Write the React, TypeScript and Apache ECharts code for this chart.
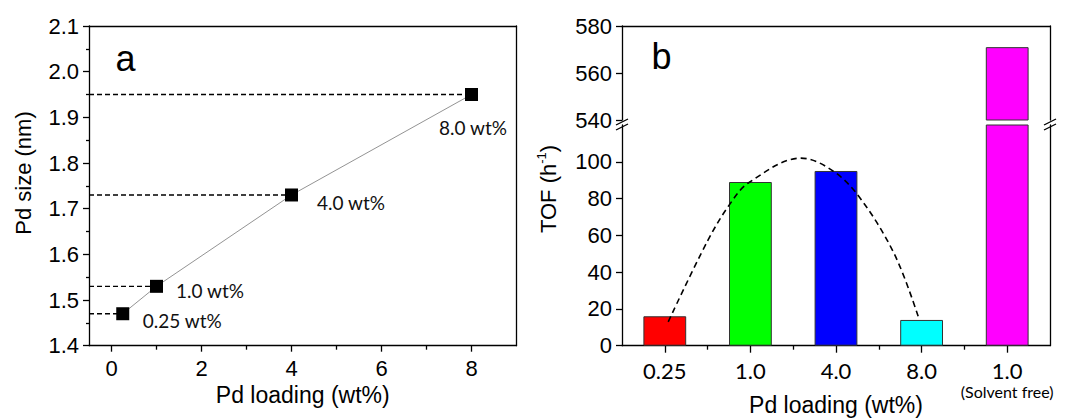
import React, { useEffect, useRef } from 'react';
import * as echarts from 'echarts';

// ---------- data: panel a ----------
const loadingsA = [0.25, 1, 4, 8];
const sizesA = [1.47, 1.53, 1.73, 1.95];
const pointLabelsA = ['0.25 wt%', '1.0 wt%', '4.0 wt%', '8.0 wt%'];
const xTicksA = [0, 2, 4, 6, 8];
const xMinorTicksA = [1, 3, 5, 7];

// ---------- data: panel b ----------
const categoriesB = ['0.25', '1.0', '4.0', '8.0', '1.0'];
const categoryNotesB = ['', '', '', '', '(Solvent free)'];
const tofB = [16, 89, 95, 14, 571];
const lowerTicksB = [0, 20, 40, 60, 80, 100];
// dashed guide curve: [category position, TOF]
const trendB: [number, number][] = [
  [0.04, 13], [0.5, 57], [0.76, 77], [0.98, 88.6], [1.59, 102],
  [1.95, 95.5], [2.27, 81], [2.68, 50], [2.96, 16],
];

// ---------- styles ----------
const barColorsB = ['#FF0000', '#00FF00', '#0000FF', '#00FFFF', '#FF00FF'];
const labelPlacementA: [number, number, string][] = [
  [26.5, 13.5, 'left'],
  [26, 10.5, 'left'],
  [32, 14.5, 'left'],
  [8, 39, 'center'],
];
const ARIAL = '"Liberation Sans", Arial, sans-serif';
const CAL = 'Lato, "Open Sans", sans-serif';
const LINE = { color: '#000', width: 1.3 };

function lineOnlyAxis(extra: any) {
  return {
    axisLine: { show: true, onZero: false, lineStyle: LINE },
    axisTick: { show: false },
    axisLabel: { show: false },
    splitLine: { show: false },
    ...extra,
  };
}

export default function App() {
  const ref = useRef<HTMLDivElement>(null);
  useEffect(() => {
    if (!ref.current) return;
    const chart = echarts.init(ref.current, undefined, { renderer: 'svg' });
    const boundaryTicks = categoriesB.slice(1).map((_, i) => i + 0.5);

    const option: any = {
      animation: false,
      grid: [
        { left: 89, right: 552.5, top: 26, bottom: 73.3, outerBoundsMode: 'none', containLabel: false },
        { left: 622, right: 19, top: 26, height: 94, outerBoundsMode: 'none', containLabel: false },
        { left: 622, right: 19, top: 125, bottom: 73.3, outerBoundsMode: 'none', containLabel: false },
      ],
      xAxis: [
        {
          gridIndex: 0, type: 'value', min: -0.5, max: 9, position: 'bottom',
          axisLine: { show: true, onZero: false, lineStyle: LINE },
          axisTick: { show: true, customValues: xTicksA, length: 6, lineStyle: LINE },
          axisLabel: { customValues: xTicksA, fontSize: 22, fontFamily: ARIAL, color: '#000', margin: 12 },
          splitLine: { show: false },
          name: 'Pd loading (wt%)', nameLocation: 'middle', nameGap: 38, nameMoveOverlap: false,
          nameTextStyle: { fontSize: 23, fontFamily: ARIAL, color: '#000' },
        },
        {
          gridIndex: 0, type: 'value', min: -0.5, max: 9, position: 'bottom',
          axisLine: { show: false, onZero: false },
          axisTick: { show: true, customValues: xMinorTicksA, length: 4, lineStyle: LINE },
          axisLabel: { show: false },
          splitLine: { show: false },
        },
        lineOnlyAxis({ gridIndex: 0, type: 'value', min: -0.5, max: 9, position: 'top' }),
        lineOnlyAxis({ gridIndex: 1, type: 'category', data: categoriesB, position: 'top' }),
        {
          gridIndex: 2, type: 'category', data: categoriesB, position: 'bottom',
          axisLine: { show: true, onZero: false, lineStyle: LINE },
          axisTick: { show: true, alignWithLabel: true, interval: 0, length: 7, lineStyle: LINE },
          axisLabel: {
            margin: 14,
            interval: 0,
            formatter: (_v: string, i: number) =>
              categoryNotesB[i]
                ? `{a|${categoriesB[i]}}\n{b|${categoryNotesB[i]}}`
                : `{a|${categoriesB[i]}}`,
            rich: {
              a: { fontSize: 22, fontFamily: CAL, color: '#000', lineHeight: 22 },
              b: { fontSize: 16, fontFamily: CAL, color: '#000', lineHeight: 20 },
            },
          },
          splitLine: { show: false },
          name: 'Pd loading (wt%)', nameLocation: 'middle', nameGap: 48, nameMoveOverlap: false,
          nameTextStyle: { fontSize: 23, fontFamily: ARIAL, color: '#000' },
        },
        {
          gridIndex: 2, type: 'value', min: -0.5, max: 4.5, position: 'bottom',
          axisLine: { show: false, onZero: false },
          axisTick: { show: true, customValues: boundaryTicks, length: 4, lineStyle: LINE },
          axisLabel: { show: false },
          splitLine: { show: false },
        },
      ],
      yAxis: [
        {
          gridIndex: 0, type: 'value', min: 1.4, max: 2.1, interval: 0.1,
          axisLine: { show: true, onZero: false, lineStyle: LINE },
          axisTick: { show: true, length: 6, lineStyle: LINE },
          minorTick: { show: true, splitNumber: 2, length: 3, lineStyle: LINE },
          axisLabel: {
            fontSize: 22, fontFamily: ARIAL, color: '#000', margin: 10,
            formatter: (v: number) => v.toFixed(1),
          },
          splitLine: { show: false },
          minorSplitLine: { show: false },
        },
        lineOnlyAxis({ gridIndex: 0, type: 'value', min: 1.4, max: 2.1, position: 'right' }),
        {
          gridIndex: 1, type: 'value', min: 540, max: 580, interval: 20,
          axisLine: { show: true, onZero: false, lineStyle: LINE },
          axisTick: { show: true, length: 6, lineStyle: LINE },
          axisLabel: { fontSize: 22, fontFamily: ARIAL, color: '#000', margin: 10 },
          splitLine: { show: false },
        },
        lineOnlyAxis({ gridIndex: 1, type: 'value', min: 540, max: 580, position: 'right' }),
        {
          gridIndex: 2, type: 'value', min: 0, max: 120, interval: 20,
          axisLine: { show: true, onZero: false, lineStyle: LINE },
          axisTick: { show: true, length: 6, customValues: lowerTicksB, lineStyle: LINE },
          axisLabel: { customValues: lowerTicksB, fontSize: 22, fontFamily: ARIAL, color: '#000', margin: 10 },
          splitLine: { show: false },
        },
        lineOnlyAxis({ gridIndex: 2, type: 'value', min: 0, max: 120, position: 'right' }),
      ],
      series: [
        // panel a: guide dashes
        ...loadingsA.map((x, i) => ({
          type: 'line', xAxisIndex: 0, yAxisIndex: 0, symbol: 'none', silent: true,
          data: [[-0.5, sizesA[i]], [x, sizesA[i]]],
          lineStyle: { color: '#000', width: 1.3, type: [5, 3] }, z: 2,
        })),
        {
          type: 'line', xAxisIndex: 0, yAxisIndex: 0, symbol: 'none',
          data: loadingsA.map((x, i) => [x, sizesA[i]]),
          lineStyle: { color: '#777', width: 0.8 }, z: 3,
        },
        {
          type: 'scatter', xAxisIndex: 0, yAxisIndex: 0, symbol: 'rect', symbolSize: 13,
          itemStyle: { color: '#000', opacity: 1 }, z: 5,
          data: loadingsA.map((x, i) => ({
            value: [x, sizesA[i]],
            label: {
              show: true,
              formatter: pointLabelsA[i],
              position: [labelPlacementA[i][0], labelPlacementA[i][1]],
              align: labelPlacementA[i][2],
              verticalAlign: 'middle',
              fontSize: 19, fontFamily: CAL, color: '#111', opacity: 1,
            },
          })),
        },
        // panel b
        {
          type: 'bar', xAxisIndex: 3, yAxisIndex: 2, barWidth: '50%', clip: true,
          data: tofB.map((v, i) => ({ value: v, itemStyle: { color: barColorsB[i] } })),
          itemStyle: { borderColor: '#333', borderWidth: 1 },
        },
        {
          type: 'bar', xAxisIndex: 4, yAxisIndex: 4, barWidth: '50%', clip: true,
          data: tofB.map((v, i) => ({ value: v, itemStyle: { color: barColorsB[i] } })),
          itemStyle: { borderColor: '#333', borderWidth: 1 },
        },
        {
          type: 'line', xAxisIndex: 5, yAxisIndex: 4, symbol: 'none', smooth: 0.35, z: 5,
          data: trendB,
          lineStyle: { color: '#000', width: 1.6, type: [6, 4] },
        },
      ],
      graphic: [
        { type: 'text', x: 115.5, y: 58.5, style: { text: 'a', font: `36px ${ARIAL}`, fill: '#000', textAlign: 'left', textVerticalAlign: 'middle' } },
        { type: 'text', x: 651.5, y: 56.5, style: { text: 'b', font: `36px ${ARIAL}`, fill: '#000', textAlign: 'left', textVerticalAlign: 'middle' } },
        {
          type: 'text', x: 23.4, y: 173, rotation: Math.PI / 2,
          style: { text: 'Pd size (nm)', font: `22px ${ARIAL}`, fill: '#000', textAlign: 'center', textVerticalAlign: 'middle' },
        },
        {
          type: 'text', x: 548, y: 189, rotation: Math.PI / 2,
          style: {
            text: '{m|TOF (h}{s|-1}{m|)}',
            textAlign: 'center', textVerticalAlign: 'middle',
            rich: {
              m: { fontSize: 22, fontFamily: ARIAL, fill: '#000', lineHeight: 26 },
              s: { fontSize: 13, fontFamily: ARIAL, fill: '#000', verticalAlign: 'top', lineHeight: 14 },
            },
          },
        },
        // axis break marks
        { type: 'line', shape: { x1: 616, y1: 125, x2: 628, y2: 119 }, style: { stroke: '#000', lineWidth: 1.3 }, z: 100 },
        { type: 'line', shape: { x1: 616, y1: 130, x2: 628, y2: 124 }, style: { stroke: '#000', lineWidth: 1.3 }, z: 100 },
        { type: 'line', shape: { x1: 1044, y1: 125, x2: 1056, y2: 119 }, style: { stroke: '#000', lineWidth: 1.3 }, z: 100 },
        { type: 'line', shape: { x1: 1044, y1: 130, x2: 1056, y2: 124 }, style: { stroke: '#000', lineWidth: 1.3 }, z: 100 },
      ],
    };
    chart.setOption(option);
    return () => chart.dispose();
  }, []);
  return (
    <div
      ref={ref}
      style={{ position: 'absolute', left: 0, top: 0, width: 1069, height: 419, background: '#fff' }}
    />
  );
}
